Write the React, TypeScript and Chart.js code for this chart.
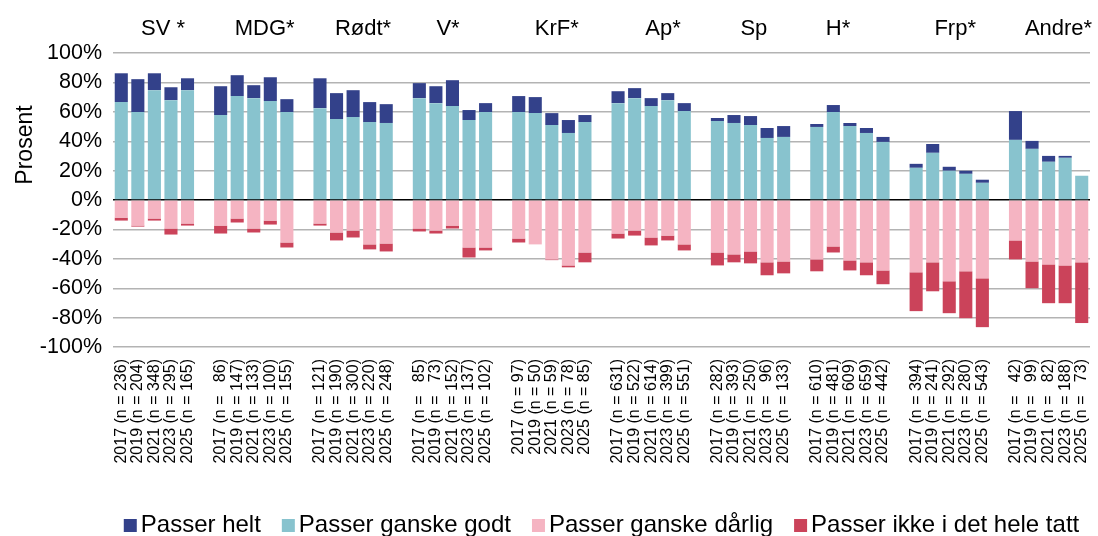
import React, { useEffect, useRef } from "react";
import { Chart, registerables } from "chart.js";

Chart.register(...registerables);

const FONT = "'Liberation Sans', Arial, sans-serif";

const groups = ["SV *", "MDG*", "Rødt*", "V*", "KrF*", "Ap*", "Sp", "H*", "Frp*", "Andre*"];
const years = ["2017", "2019", "2021", "2023", "2025"];

const nCounts = [
  [236, 204, 348, 295, 165],
  [86, 147, 133, 100, 155],
  [121, 190, 300, 220, 248],
  [85, 73, 152, 137, 102],
  [97, 50, 59, 78, 85],
  [631, 522, 614, 399, 551],
  [282, 393, 250, 96, 133],
  [610, 481, 609, 659, 442],
  [394, 241, 292, 280, 543],
  [42, 99, 82, 188, 73],
];

const passerGanskeGodt = [
  [66.6, 59.8, 74.7, 67.9, 74.7],
  [57.8, 70.7, 69.3, 67.3, 59.8],
  [62.5, 55.1, 56.4, 53.0, 52.4],
  [69.3, 65.9, 63.9, 54.4, 59.8],
  [59.8, 59.1, 51.0, 45.6, 53.0],
  [65.9, 69.3, 63.9, 67.9, 60.5],
  [53.7, 52.4, 51.0, 42.2, 42.9],
  [49.7, 59.8, 50.3, 45.6, 39.5],
  [21.9, 32.1, 19.9, 17.8, 11.7],
  [40.9, 34.8, 26.0, 28.7, 16.5],
];

const passerHelt = [
  [19.6, 22.4, 11.5, 8.8, 8.1],
  [19.6, 14.2, 8.8, 16.2, 8.8],
  [20.3, 17.6, 18.3, 13.6, 12.8],
  [10.2, 11.5, 17.6, 6.8, 6.1],
  [10.9, 10.9, 8.1, 8.8, 4.8],
  [8.1, 6.8, 5.4, 4.8, 5.4],
  [2.1, 5.4, 6.1, 6.8, 7.4],
  [2.0, 4.8, 2.1, 3.4, 3.4],
  [2.7, 6.0, 2.7, 2.1, 2.1],
  [19.6, 5.4, 4.0, 1.3, 0],
];

const passerGanskeDarlig = [
  [-12.0, -17.4, -12.6, -19.4, -16.0],
  [-17.4, -12.6, -19.4, -14.0, -28.9],
  [-16.0, -22.1, -20.8, -30.2, -29.6],
  [-19.4, -20.8, -17.4, -32.3, -32.3],
  [-26.2, -30.2, -40.4, -44.5, -35.7],
  [-22.8, -20.8, -25.5, -24.2, -30.2],
  [-35.7, -37.0, -35.0, -42.4, -41.8],
  [-40.4, -31.6, -41.1, -42.4, -47.9],
  [-49.2, -42.4, -55.3, -48.5, -53.3],
  [-27.5, -41.8, -43.8, -44.5, -42.4],
];

const passerIkke = [
  [-2.0, -0.7, -1.4, -4.1, -1.4],
  [-5.4, -2.7, -2.7, -2.7, -3.4],
  [-1.4, -5.4, -4.7, -3.4, -5.4],
  [-2.0, -2.0, -2.0, -6.8, -2.0],
  [-2.7, 0, -0.5, -1.3, -6.7],
  [-3.4, -3.4, -5.4, -3.3, -4.1],
  [-8.8, -5.4, -8.1, -8.8, -8.1],
  [-8.1, -4.1, -6.8, -8.8, -9.4],
  [-26.4, -19.7, -21.7, -31.9, -33.2],
  [-12.9, -18.2, -26.4, -25.7, -41.3],
];

const yTicks = [-100, -80, -60, -40, -20, 0, 20, 40, 60, 80, 100];

const COLORS = {
  helt: "#33418A",
  godt: "#88C3CE",
  darlig: "#F5B4C2",
  ikke: "#CB435A",
};

// horizontal shift of each group heading, in bar slots, from the group's middle bar
const groupLabelShift = [0.52, 0.66, 0.6, -0.27, 0.3, 0.72, 0.2, -0.72, 0.36, 0.6];

function buildLabels(): string[] {
  const out: string[] = [];
  nCounts.forEach((grp, g) => {
    const maxLen = Math.max(...grp.map((n) => String(n).length));
    grp.forEach((n, i) => {
      const pad = "  ".repeat(maxLen - String(n).length);
      out.push(`${years[i]} (n = ${pad}${n})`);
    });
    if (g < nCounts.length - 1) out.push("");
  });
  return out;
}

function flatten(series: number[][]): (number | null)[] {
  const out: (number | null)[] = [];
  series.forEach((grp, g) => {
    grp.forEach((v) => out.push(v));
    if (g < series.length - 1) out.push(null);
  });
  return out;
}

const legendItems = [
  { label: "Passer helt", color: COLORS.helt },
  { label: "Passer ganske godt", color: COLORS.godt },
  { label: "Passer ganske dårlig", color: COLORS.darlig },
  { label: "Passer ikke i det hele tatt", color: COLORS.ikke },
];

const overlayPlugin = {
  id: "overlay",
  afterDraw(chart: any) {
    const { ctx, chartArea } = chart;
    const x = chart.scales.x;
    const slot = x.getPixelForValue(1) - x.getPixelForValue(0);
    ctx.save();
    ctx.fillStyle = "#000";
    // group headings
    ctx.font = `22px ${FONT}`;
    ctx.textAlign = "center";
    ctx.textBaseline = "alphabetic";
    groups.forEach((g, i) => {
      const cx = x.getPixelForValue(i * 6 + 2) + groupLabelShift[i] * slot;
      ctx.fillText(g, cx, chartArea.top - 18.5);
    });
    // y axis title
    ctx.save();
    ctx.translate(chartArea.left - 81, chartArea.top + 92);
    ctx.rotate(-Math.PI / 2);
    ctx.font = `23px ${FONT}`;
    ctx.textAlign = "center";
    ctx.textBaseline = "alphabetic";
    ctx.fillText("Prosent", 0, 0);
    ctx.restore();
    // legend
    ctx.font = `24px ${FONT}`;
    ctx.textAlign = "left";
    ctx.textBaseline = "alphabetic";
    const box = 13;
    const gapText = 4;
    const gapItem = 21;
    const widths = legendItems.map((it) => ctx.measureText(it.label).width);
    const total =
      widths.reduce((a: number, w: number) => a + w + box + gapText, 0) + gapItem * (legendItems.length - 1);
    let lx = (chartArea.left + chartArea.right) / 2 - total / 2;
    const baseY = chart.height - 4;
    legendItems.forEach((it, i) => {
      ctx.fillStyle = it.color;
      ctx.fillRect(lx, baseY - box, box, box);
      ctx.fillStyle = "#000";
      ctx.fillText(it.label, lx + box + gapText, baseY);
      lx += box + gapText + widths[i] + gapItem;
    });
    ctx.restore();
  },
};

export default function App() {
  const ref = useRef<HTMLCanvasElement | null>(null);

  useEffect(() => {
    if (!ref.current) return;
    const labels = buildLabels();
    const common = { barPercentage: 0.79, categoryPercentage: 1.0, borderWidth: 0 };
    const chart = new Chart(ref.current, {
      type: "bar",
      data: {
        labels,
        datasets: [
          { label: "Passer ganske godt", data: flatten(passerGanskeGodt), backgroundColor: COLORS.godt, ...common },
          { label: "Passer helt", data: flatten(passerHelt), backgroundColor: COLORS.helt, ...common },
          { label: "Passer ganske dårlig", data: flatten(passerGanskeDarlig), backgroundColor: COLORS.darlig, ...common },
          { label: "Passer ikke i det hele tatt", data: flatten(passerIkke), backgroundColor: COLORS.ikke, ...common },
        ],
      },
      options: {
        responsive: false,
        animation: false,
        layout: { padding: { top: 53, right: 8, bottom: 0, left: 0 } },
        plugins: { legend: { display: false }, tooltip: { enabled: false } },
        scales: {
          x: {
            stacked: true,
            offset: true,
            grid: { display: false, drawTicks: false },
            border: { display: false },
            ticks: {
              autoSkip: false,
              minRotation: 90,
              maxRotation: 90,
              padding: 12,
              color: "#000",
              font: { family: FONT, size: 16 },
            },
            afterFit: (s: any) => {
              s.height = 189;
              s.paddingLeft = 0;
              s.paddingRight = 0;
            },
          },
          y: {
            stacked: true,
            min: yTicks[0],
            max: yTicks[yTicks.length - 1],
            afterBuildTicks: (s: any) => {
              s.ticks = yTicks.map((v) => ({ value: v }));
            },
            grid: {
              drawTicks: false,
              lineWidth: 1.4,
              color: (c: any) => (c.tick && c.tick.value === 0 ? "#000000" : "#B3B3B3"),
            },
            border: { display: false },
            ticks: {
              padding: 11,
              color: "#000",
              font: { family: FONT, size: 21.5 },
              callback: (v: any) => `${v}%`,
            },
            afterFit: (s: any) => {
              s.width = 113;
            },
          },
        },
      },
      plugins: [overlayPlugin],
    });
    return () => chart.destroy();
  }, []);

  return (
    <div style={{ position: "fixed", left: 0, top: 0, width: 1098, height: 536, background: "#fff" }}>
      <canvas ref={ref} width={1098} height={536} style={{ display: "block" }} />
    </div>
  );
}
